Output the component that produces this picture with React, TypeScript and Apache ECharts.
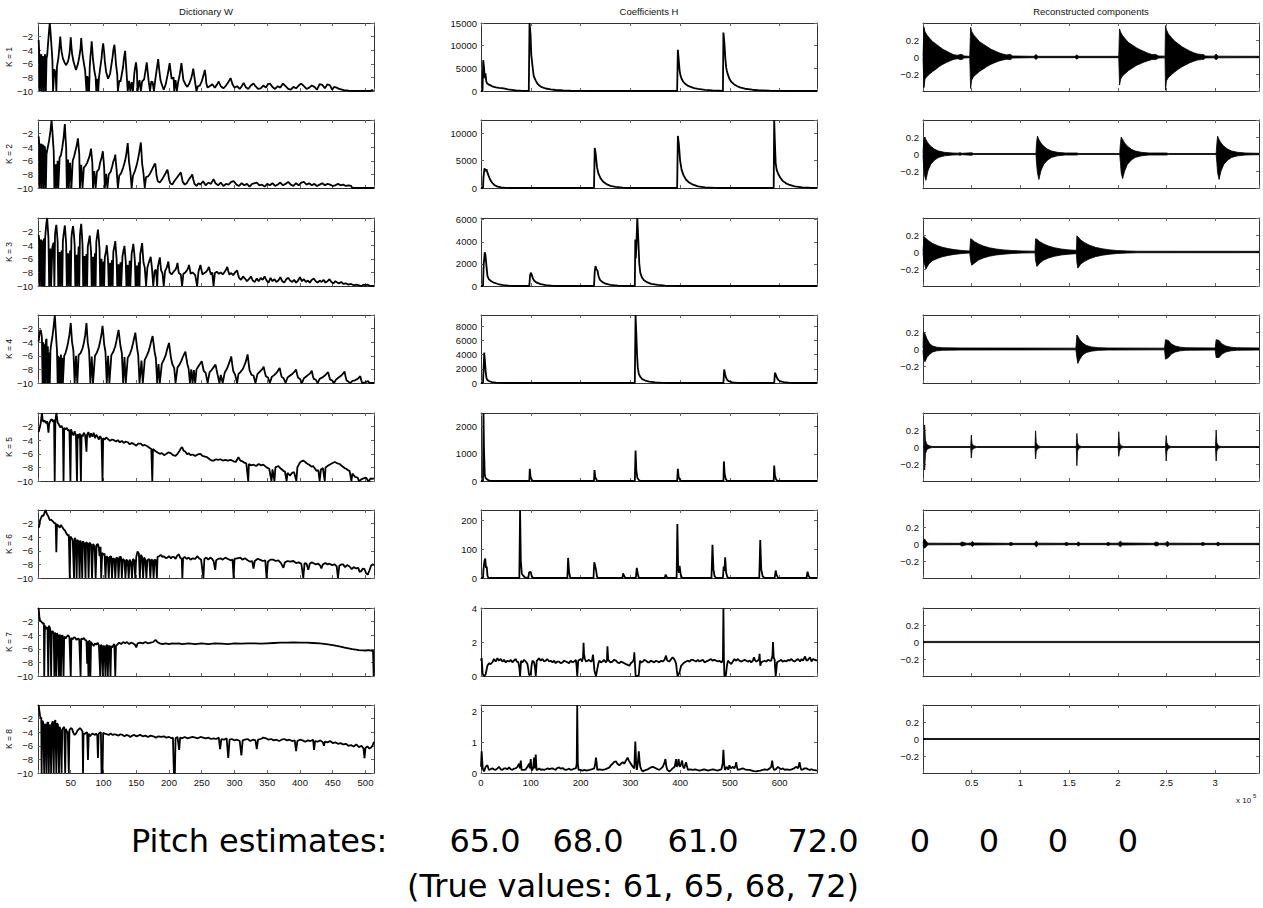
import React, { useEffect, useRef } from "react";
import * as echarts from "echarts";

// ---------------- Column 1: Dictionary W (log-spectra), x = frequency bin ----------------
const W_K1 = [
[1,-2.5],[2,-4.8],[3,-10],[4,-5.0],[5,-4.6],[6,-10],[7,-4.9],[8,-5.3],[9,-10],[10,-5.0],[11,-4.6],[12,-10],[13,-5.2],[14,-4.8],[15,-3.5],[16,-2.2],[17,-1.0],[18,0],[19,-1.2],[20,-2.6],[21,-4.0],[22,-5.5],[23,-10],[25,-6.8],[27,-7.5],[28,-10],[29,-6.4],[31,-5.2],[32,-4.3],[33,-3.2],[34,-2.0],[35,-3.3],[36,-4.2],[38,-5.2],[41,-5.9],[43,-6.2],[46,-5.6],[48,-4.6],[49,-3.5],[50,-2.1],[51,-3.5],[52,-4.5],[54,-5.6],[58,-6.9],[61,-6.0],[63,-5.0],[65,-3.7],[66,-2.2],[67,-3.6],[68,-4.6],[70,-5.9],[72,-7.0],[74,-10],[75,-7.8],[76,-10],[77,-7.9],[78,-10],[79,-6.5],[80,-5.0],[81,-3.9],[82,-2.7],[83,-4.0],[84,-5.4],[86,-7.0],[88,-8.0],[89,-10],[90,-8.2],[92,-10],[93,-8.1],[95,-6.6],[97,-5.2],[98,-4.1],[99.5,-3.0],[101,-4.3],[102,-5.6],[104,-7.2],[107,-8.2],[110,-7.5],[112,-6.2],[114,-4.9],[115,-4.0],[116.7,-3.2],[118,-4.6],[119,-6.0],[121,-7.6],[122,-10],[124,-8.5],[126,-8.6],[128,-7.5],[130,-6.4],[131,-5.3],[133,-4.1],[134,-5.6],[135,-7.0],[137,-10],[139,-8.5],[141,-10],[143,-8.7],[145,-10],[147,-7.5],[148,-6.7],[149.6,-5.8],[151,-7.0],[152,-10],[155,-8.4],[157,-10],[159,-8.6],[162,-8.3],[164,-7.1],[166,-5.8],[167.5,-7.2],[169,-8.6],[171,-10],[173,-8.6],[175,-8.7],[177,-10],[179,-8.4],[181,-7.0],[183.5,-5.3],[185,-6.8],[187,-8.4],[190,-9.3],[192,-9.8],[195,-9.0],[198,-7.6],[199.5,-6.8],[201,-5.9],[202.5,-7.1],[204,-8.2],[207,-8.0],[208,-10],[210,-8.4],[212,-10],[214,-8.7],[216,-7.8],[217.5,-6.9],[219,-5.9],[220.5,-7.2],[222,-8.4],[225,-9.0],[228,-9.4],[231,-8.9],[234,-8.1],[235.5,-7.5],[237,-6.7],[238.5,-7.7],[240,-8.8],[242,-10],[244,-9.3],[247,-9.2],[250,-8.6],[252,-7.9],[253.5,-7.4],[254.7,-6.9],[256,-7.8],[257,-8.9],[259,-9.5],
[262,-9.3],[266,-9.0],[270,-9.5],[273,-9.1],[276,-8.6],[279,-9.3],[283,-9.6],[287,-9.2],[290,-8.8],[294,-8.1],[297,-9.0],[300,-9.5],[304,-9.3],[308,-9.7],[311,-9.3],[314,-8.8],[317,-9.4],[321,-9.7],[325,-9.2],[329,-8.9],[332,-9.3],[336,-9.7],[340,-9.6],[344,-9.2],[348,-9.5],[351,-9.0],[354,-8.9],[358,-9.4],[362,-9.7],[366,-9.3],[370,-9.5],[374,-8.9],[378,-9.3],[382,-9.7],[386,-9.8],[390,-9.4],[394,-9.6],[398,-9.2],[402,-8.9],[406,-9.3],[410,-9.7],[414,-9.5],[418,-9.2],[422,-9.4],[426,-9.8],[430,-9.0],[434,-9.1],[438,-9.6],[442,-9.0],[446,-9.2],[449,-9.8],[452,-9.4],[456,-9.5],[460,-9.7],[464,-9.8],[468,-9.9],[472,-9.9],[476,-10],[508,-10],[510,-9.85],[512,-10],[513,-10]
];

const W_K2 = [
[1,-2.4],[2,-3.6],[3,-10],[4,-3.7],[5,-3.5],[6,-10],[7,-3.6],[8,-3.9],[9,-10],[10,-3.8],[11,-4.4],[12,-10],[13,-5.0],[15,-4.0],[17,-3.0],[19,-1.6],[20.7,0],[22,-1.7],[23,-3.2],[24,-4.6],[25,-10],[27,-6.5],[28,-10],[30,-6.0],[31,-10],[33,-5.5],[35,-5.2],[37,-4.1],[39,-2.7],[41,-0.6],[42,-2.6],[43,-4.0],[44,-10],[46,-5.8],[47,-10],[49,-6.3],[51,-10],[53,-6.0],[55,-5.4],[57,-4.6],[59,-3.8],[61,-2.7],[62,-3.9],[63,-5.0],[64,-10],[66,-6.6],[68,-10],[70,-7.0],[72,-6.8],[75,-6.3],[77,-5.8],[79,-5.2],[81,-4.2],[82,-5.3],[83,-6.4],[84,-10],[86,-7.5],[88,-10],[90,-7.6],[93,-7.2],[95,-6.2],[97,-5.6],[99,-4.6],[100,-5.8],[101,-7.0],[102,-10],[104,-7.9],[106,-10],[108,-8.0],[111,-7.6],[113,-6.9],[115,-6.1],[117,-5.6],[118,-5.1],[119,-6.3],[120,-7.3],[122,-10],[124,-8.2],[127,-7.8],[130,-7.0],[133,-6.0],[135,-4.9],[137,-3.4],[138,-4.8],[139,-6.2],[141,-7.6],[143,-10],[145,-8.2],[148,-7.5],[151,-6.5],[153,-5.6],[155,-4.5],[157,-3.3],
[158,-4.8],[159,-6.4],[161,-7.8],[163,-10],[165,-8.4],[168,-8.3],[171,-7.9],[174,-7.3],[176,-6.9],[177.5,-6.6],[179,-6.4],[180,-7.2],[181,-8.2],[183,-9.0],[186,-9.2],[189,-8.8],[192,-8.3],[195,-7.8],[196.5,-7.5],[197.6,-7.3],[199,-8.0],[200,-8.7],[202,-9.3],[205,-9.5],[208,-9.0],[212,-8.5],[215,-8.1],[216.5,-7.9],[218,-7.7],[219.5,-8.4],[221,-9.1],[224,-9.5],[227,-9.3],[230,-8.8],[233,-8.4],[235.5,-8.0],[237,-8.7],[239,-9.4],[242,-9.7],[245,-9.3],[248,-9.5],[252,-9.0],[256,-9.6],[260,-9.2],[264,-9.4],[268,-8.7],[271,-9.3],[275,-9.6],[279,-9.2],[283,-9.7],[287,-9.4],[291,-9.5],[295,-9.1],[299,-9.0],[303,-9.5],[307,-9.7],[311,-9.3],[315,-9.6],[319,-9.4],[323,-9.8],[327,-9.4],[331,-9.3],[334,-9.2],[338,-9.6],[342,-9.5],[346,-9.8],[350,-9.4],[354,-9.6],[358,-9.3],[362,-9.7],[366,-9.5],[370,-9.2],[374,-9.6],[378,-9.4],[382,-9.1],[386,-9.5],[390,-9.7],[394,-9.3],[398,-9.6],[402,-9.2],[406,-9.1],[410,-9.5],[414,-9.3],[418,-9.6],[422,-9.4],[426,-9.7],[430,-9.5],[434,-9.3],[438,-9.6],[442,-9.4],[446,-9.5],[450,-9.7],[454,-9.6],[458,-9.4],[462,-9.6],[466,-9.5],[470,-9.7],[474,-9.6],[478,-9.7],[480,-10],[513,-10]
];

const W_K3 = [
[1,-2.5],[2,-3.3],[3,-10],[4,-3.4],[5,-3.2],[6,-10],[7,-3.3],[8,-10],[9,-3.0],[10,-10],[11,-2.8],[12,-1.6],[13,-0.6],[14,0],[15,-1.5],[16,-3.0],[17,-10],[19,-4.5],[20,-10],[22,-4.2],[24,-3.6],[25,-10],[26,-2.4],[27,-1.6],[28,-1.0],[29,-2.2],[30,-3.6],[31,-10],[33,-5.0],[34,-10],[36,-4.8],[37,-10],[38,-3.4],[39,-2.5],[40,-1.8],[41,-1.1],[42,-2.4],[43,-3.8],[44,-10],[46,-5.2],[47,-10],[49,-4.8],[50,-10],[51,-3.0],[52,-2.0],[53.5,-1.2],[55,-2.6],[56,-4.0],[57,-10],[59,-5.4],[60,-10],[62,-4.2],[63,-10],[64,-2.6],[65,-1.6],[66,-0.85],[67,-2.4],[68,-4.0],[69,-10],[71,-5.6],[72,-10],[74,-5.3],[75,-10],[76,-4.2],[77.5,-3.4],[79,-2.6],[80,-3.8],[81,-5.0],[82,-10],[84,-5.7],[85,-10],[87,-5.2],[88,-10],[89,-3.5],[90.5,-2.5],[91.5,-1.7],[93,-3.2],[94,-4.7],[95,-10],[97,-6.0],[98,-10],[100,-6.4],[101,-10],[102,-5.8],[104,-4.8],[105,-4.0],[106,-5.2],[107,-6.4],[108,-10],[110,-6.6],[111,-10],[113,-6.2],[114,-10],[115,-5.0],[116.5,-4.2],[118,-3.4],[119,-4.8],[120,-6.0],[121,-10],[123,-6.8],[124,-10],[126,-6.5],[127,-10],[129,-5.6],[130.5,-4.8],[132,-4.1],[133,-5.3],[134,-6.4],[135,-10],[137,-6.9],[138,-10],[140,-6.3],[141,-10],[143,-5.2],[144.5,-4.5],[145.5,-3.8],[147,-5.2],[148,-6.5],[149,-10],[151,-7.0],[152,-10],[154,-6.5],[155,-10],[156,-5.4],[157.5,-4.5],[159,-3.7],[160,-5.2],[161,-6.5],[163,-7.3],[165,-10],[167,-7.3],[169,-6.6],[170.5,-6.2],[172,-5.7],[173,-6.5],[174,-7.4],[176,-10],[178,-7.8],[180,-7.6],[182,-10],[183,-7.2],[184.5,-6.5],[186,-5.8],[187,-6.8],[188,-7.7],[190,-8.1],[192,-10],[194,-7.8],[196,-7.4],[197.5,-7.0],[199,-6.4],[200,-7.2],[201,-8.0],[204,-8.3],[207,-7.9],[210,-7.6],[211.5,-7.2],[213,-6.6],[214,-7.4],[215,-8.1],[218,-8.3],[220,-10],[222,-8.2],[225,-8.0],[228,-7.6],[229.5,-7.3],[230.5,-6.9],[232,-7.6],[233,-8.2],[236,-8.0],[240,-8.4],[243,-10],[245,-7.9],[246.5,-7.4],[248,-6.9],[249.5,-7.6],[251,-8.3],[254,-8.1],[257,-7.9],[259,-7.6],[261,-7.2],[262.5,-7.8],[264,-8.3],[266,-8.0],[268,-10],[270,-8.1],[273,-7.9],[276,-8.2],[279,-8.0],[282,-8.3],[285,-7.9],[287,-7.6],[289,-7.2],[290.5,-7.8],[292,-8.3],[295,-8.1],[298,-8.4],[301,-8.0],[303,-7.8],[304,-7.7],[305.5,-8.3],[307,-8.8],[310,-9.1],[313,-8.6],[316,-8.9],[319,-9.3],[322,-9.0],[325,-8.6],[328,-9.2],[331,-9.4],[334,-8.9],[337,-9.3],[340,-8.8],[343,-9.1],[346,-8.6],[349,-9.2],[352,-9.5],[355,-8.8],[358,-9.3],[361,-9.0],[364,-9.4],[367,-9.2],[370,-8.7],[373,-9.3],[376,-9.5],[379,-9.0],[382,-8.8],[385,-9.2],[388,-9.4],[391,-9.1],[394,-9.5],[397,-9.2],[400,-8.7],[403,-9.3],[406,-9.0],[409,-9.4],[412,-9.2],[415,-9.5],[418,-9.1],[421,-8.9],[424,-9.3],[427,-9.5],[430,-9.2],[433,-9.4],[436,-9.1],[439,-9.5],[442,-9.3],[445,-9.0],[448,-9.4],[451,-9.6],[454,-9.3],[457,-9.5],[460,-9.6],[463,-9.4],[466,-9.7],[470,-9.6],[474,-9.8],[478,-9.7],[482,-9.9],[486,-9.8],[490,-9.9],[494,-10],[497,-9.8],[500,-9.9],[503,-9.8],[507,-10],[513,-10]
];

const W_K4 = [
[1,-3.9],[2,-3.0],[3,-2.4],[4,-2.2],[5,-2.6],[6,-3.4],[7,-10],[8,-4.0],[9,-10],[10,-4.3],[11,-10],[12,-3.8],[13,-3.5],[14,-10],[15,-4.6],[16,-10],[17,-5.5],[18,-10],[19,-5.2],[20,-4.4],[22,-3.2],[23.5,-2.0],[25.7,0],[27,-2.2],[28,-3.8],[29,-5.2],[30,-10],[31,-6.0],[32,-10],[33,-6.2],[34,-10],[35,-5.8],[36,-10],[37,-6.3],[38,-10],[40,-6.0],[42,-5.6],[44,-4.9],[46,-4.0],[48,-2.9],[50,-1.2],[51,-2.6],[52,-4.0],[54,-5.2],[56,-10],[58,-6.0],[60,-10],[62,-5.9],[65,-5.6],[68,-4.9],[70,-4.1],[72,-3.0],[74,-1.2],[75,-2.7],[76,-4.1],[78,-5.3],[80,-10],[82,-6.1],[84,-10],[87,-6.0],[90,-5.5],[93,-4.7],[95,-3.8],[97,-2.8],[98.5,-1.6],[100,-3.0],[101,-4.3],[103,-5.4],[105,-10],[107,-6.0],[109,-10],[112,-5.9],[115,-5.4],[118,-4.6],[120,-3.7],[121.5,-2.9],[123,-2.2],[124.5,-3.4],[126,-4.6],[128,-5.6],[130,-10],[132,-6.2],[134,-10],[137,-6.3],[140,-5.8],[143,-5.0],[145,-4.2],[147,-3.3],[148.6,-2.6],[150,-3.8],[151.5,-5.0],[153,-5.9],[155,-10],[158,-6.7],[160,-10],[163,-6.6],[166,-6.0],[169,-5.3],[171,-4.6],[173,-3.8],[175,-3.1],[176.5,-4.2],[178,-5.4],[180,-6.4],[182,-10],[184,-7.2],[186,-10],[189,-7.2],[192,-6.6],[195,-5.9],[197,-5.1],[198.5,-4.6],[200,-4.1],[201.5,-5.2],[203,-6.3],[205,-7.2],[208,-7.8],[210,-10],[213,-7.7],[216,-7.3],[219,-6.7],[221,-6.2],[223,-5.8],[225,-5.4],[226.5,-6.3],[228,-7.2],[230,-7.9],[232,-10],[234,-8.0],[236,-10],[238,-8.1],[240,-10],[242,-8.0],[244,-7.7],[246,-7.4],[248,-7.1],[250,-6.8],[251.5,-7.5],[253,-8.2],[256,-8.5],[259,-10],[262,-8.4],[265,-8.1],[268,-7.7],[271,-7.3],[272.5,-8.0],[274,-8.7],[277,-10],[279,-8.8],[282,-10],[285,-8.5],[289,-7.8],[292,-7.0],[293.5,-6.6],[295,-6.1],[296.5,-7.2],[298,-8.2],[301,-8.8],[304,-10],[306,-8.7],[309,-8.4],[313,-7.9],[316,-7.2],[318,-6.6],[320,-5.8],[321.5,-7.0],[323,-8.1],[326,-8.8],[329,-8.9],[332,-10],[335,-8.7],[338,-8.4],[341,-8.1],[343,-7.9],[344.5,-7.6],[346,-8.3],[348,-9.0],[351,-9.2],[354,-10],[357,-9.1],[361,-8.8],[365,-8.4],[367,-8.1],[369,-7.8],[370.5,-8.5],[372,-9.1],[375,-9.3],[378,-10],[381,-9.2],[385,-8.9],[389,-8.6],[392,-8.3],[394,-8.0],[395.5,-8.7],[397,-9.2],[400,-9.4],[403,-10],[406,-9.3],[410,-9.0],[414,-8.7],[416,-8.5],[418,-8.2],[419.5,-8.9],[421,-9.4],[424,-9.5],[427,-10],[430,-9.4],[434,-9.2],[438,-8.9],[441,-8.6],[443,-8.4],[444.5,-9.0],[446,-9.5],[449,-9.6],[452,-10],[455,-9.5],[459,-9.2],[463,-8.9],[466,-8.6],[468,-8.3],[469.5,-9.0],[471,-9.6],[474,-9.8],[477,-10],[480,-9.7],[484,-9.6],[488,-9.4],[490,-9.2],[492,-9.0],[493.5,-9.6],[495,-10],[500,-9.9],[504,-9.7],[506,-10],[513,-10]
];

const W_K5 = [
[1,-2.8],[2,-2.4],[3,-2.0],[4,-1.6],[5,-0.8],[6,0],[7,-0.9],[8,-1.3],[10,-1.1],[12,-1.5],[14,-1.2],[15,-2.0],[16,-2.9],[17,-1.6],[19,-1.1],[21,-0.9],[23,-1.3],[24.5,-1.0],[25.5,-10],[26.5,-1.2],[28,0],[29,-0.6],[30,-1.4],[32,-1.7],[34,-2.1],[36,-1.9],[38,-2.3],[39,-10],[40,-2.2],[42,-2.4],[44,-2.2],[46,-2.6],[48,-2.5],[49.5,-10],[50.5,-2.4],[52,-2.9],[54,-3.3],[56,-2.7],[58,-3.4],[59.5,-10],[60.5,-3.1],[62,-3.7],[64,-3.0],[65.5,-10],[66.5,-3.2],[68,-3.5],[70,-2.9],[72,-3.3],[74,-5.7],[75,-3.2],[77,-2.8],[79,-3.6],[81,-3.0],[83,-3.5],[85,-2.9],[87,-3.7],[89,-3.2],[91,-3.5],[93,-3.9],[95,-3.4],[97,-3.8],[98.5,-10],[99.5,-3.7],[102,-3.9],[104,-3.6],[106.6,-3.8],[110,-4.1],[113,-3.9],[116,-4.0],[119,-4.2],[121.8,-4.0],[125,-4.3],[128,-4.1],[131,-4.4],[134,-4.2],[137,-4.3],[140,-4.6],[143,-4.4],[147,-4.6],[150,-4.8],[153,-4.5],[157,-4.5],[160,-4.8],[163,-4.7],[167,-4.9],[170,-5.1],[173,-5.3],[174.5,-10],[175.5,-5.3],[178,-5.5],[182.5,-5.8],[186,-6.0],[189,-5.9],[192.6,-6.2],[196,-6.0],[199,-5.8],[202.7,-5.9],[206,-6.2],[210,-6.3],[213,-6.0],[216,-5.6],[218,-5.2],[220,-5.0],[222,-5.5],[225,-5.7],[228,-6.1],[230,-5.9],[233,-6.2],[236,-6.1],[240,-6.3],[244,-6.1],[248,-6.0],[251,-6.3],[255,-6.4],[258,-6.5],[262,-6.8],[265,-7.0],[268,-7.0],[272,-6.8],[275,-6.9],[278.5,-6.8],[282,-7.0],[286,-6.9],[290,-7.0],[294,-6.9],[298.7,-7.1],[302,-7.2],[306,-6.5],[309,-7.0],[312,-7.1],[315,-7.3],[318,-7.4],[321,-10],[322,-7.5],[325,-7.7],[329,-7.6],[333,-7.8],[337,-7.5],[341,-7.7],[344,-7.6],[349,-8.0],[353,-8.2],[356.5,-10],[358,-8.3],[361,-10],[362.5,-8.0],[367,-7.8],[371,-8.2],[374.6,-8.5],[377,-8.6],[379.6,-10],[381,-8.8],[385,-9.2],[388,-8.8],[391,-8.7],[394.5,-10],[396,-8.0],[399.8,-7.3],[402,-7.1],[405,-7.0],[408,-7.2],[410,-7.4],[414,-7.6],[418,-7.9],[420,-7.8],[423,-8.2],[425,-8.5],[428,-8.4],[430,-10],[432,-8.3],[435,-8.1],[437.8,-10],[439,-8.0],[442,-7.8],[445,-7.6],[449,-7.4],[453,-7.2],[457,-7.4],[460.5,-7.5],[464,-7.8],[468,-8.1],[470.6,-8.2],[473,-8.4],[475.7,-8.5],[478.5,-10],[480,-8.9],[484,-9.4],[488,-9.5],[490,-10],[493,-9.8],[497,-9.6],[501,-9.5],[504,-10],[506,-9.9],[508,-9.6],[510,-9.7],[513,-9.6]
];

const W_K6 = [
[1,-2.6],[2,-2.3],[3,-1.6],[4.5,-1.2],[6.5,-0.8],[8,-0.9],[9.6,-0.5],[11.6,0],[13.6,-0.6],[15.6,-0.9],[18,-1.5],[20,-1.4],[23,-1.7],[25.7,-2.0],[27,-1.9],[28,-6.2],[29,-2.1],[31,-2.3],[33.3,-2.6],[35,-2.2],[37,-2.5],[39,-2.8],[41,-3.0],[43,-3.4],[46,-3.8],[47,-3.6],[48.5,-10],[49.5,-3.9],[51,-4.1],[53,-4.4],[55,-10],[56,-4.1],[58,-4.5],[59,-10],[60,-4.4],[62,-4.6],[63.5,-10],[64.5,-4.5],[66,-4.9],[67.5,-10],[68.5,-4.6],[71,-5.0],[72.5,-10],[73.5,-4.7],[76,-5.0],[77.3,-10],[78.5,-4.8],[81,-5.1],[82.5,-10],[84,-5.0],[86.4,-5.3],[88,-10],[89.5,-5.1],[91.5,-5.0],[93,-5.6],[94,-6.8],[95.5,-5.4],[96.5,-10],[98,-6.3],[100,-6.6],[101.6,-6.4],[103,-10],[104.5,-6.8],[106.6,-7.0],[108,-10],[109.5,-6.9],[111.7,-6.8],[113,-10],[114.5,-7.1],[116.7,-7.2],[118,-10],[119.5,-7.0],[121.8,-7.1],[123,-10],[124.5,-6.9],[126.8,-6.9],[128,-10],[129.5,-7.2],[132,-7.4],[133.5,-10],[135,-7.3],[137,-7.5],[138.5,-10],[140,-7.3],[142,-7.6],[143.5,-10],[145,-7.2],[147,-7.4],[148.5,-10],[150,-6.9],[152,-6.1],[154,-6.4],[155.5,-10],[157,-6.6],[159,-6.9],[160.5,-10],[162,-7.0],[164,-7.3],[165.5,-10],[167,-7.4],[170,-7.2],[171.5,-10],[173,-7.3],[175,-7.4],[176.5,-10],[178,-7.3],[180,-7.4],[181.5,-10],[182.5,-6.9],[185,-6.8],[187.5,-6.6],[190,-6.9],[192.6,-6.8],[195,-7.1],[197.6,-7.0],[200,-6.8],[203,-7.1],[205,-6.9],[207.7,-6.9],[210,-7.2],[212,-6.8],[215,-6.5],[217,-7.0],[219.5,-7.2],[220.4,-10],[221.5,-7.1],[224,-6.9],[227,-7.2],[230,-7.0],[233,-7.3],[236,-7.1],[240,-7.2],[243,-6.8],[246,-7.1],[249,-7.3],[252.5,-10],[254,-7.2],[257,-7.0],[260,-7.3],[263,-7.0],[266,-7.2],[268,-7.5],[270.6,-8.8],[272,-7.4],[275,-7.2],[278.5,-7.1],[282,-7.3],[286,-7.0],[290,-7.2],[294,-7.4],[297,-7.3],[298.7,-10],[300,-7.2],[304,-7.1],[309,-7.0],[312,-7.3],[316,-7.1],[320,-7.4],[324,-7.6],[327,-7.5],[329,-8.6],[331,-7.5],[335,-7.2],[339,-7.3],[343,-7.5],[347,-7.4],[349,-10],[351,-7.6],[355,-7.3],[359,-7.3],[363,-7.5],[367,-7.4],[371,-7.8],[374.6,-8.5],[377,-7.7],[381,-7.5],[385,-7.6],[390,-7.5],[394,-7.8],[398,-7.7],[402,-7.9],[405,-10],[407,-7.8],[410,-7.9],[412.7,-8.8],[415,-7.9],[418,-7.7],[420,-7.8],[424,-8.0],[428,-7.9],[431,-8.2],[432.7,-8.6],[435,-8.0],[439,-7.8],[442,-8.0],[445,-7.9],[449,-8.1],[453,-8.0],[456,-8.3],[458,-10],[460,-8.2],[463,-8.0],[465.6,-8.0],[469,-8.4],[472,-8.1],[475.7,-8.3],[479,-8.7],[482,-8.4],[485.8,-8.6],[489,-8.5],[491,-9.1],[493.4,-9.0],[496,-8.6],[498.4,-8.7],[501,-9.3],[503.5,-9.5],[506,-8.9],[508.5,-8.2],[511,-8.0],[513,-8.1]
];

const W_K7 = [
[1,0],[2,-1.2],[3,-1.8],[4,-2.0],[5,-1.9],[6,-2.2],[7,-2.1],[8,-2.4],[9,-2.2],[9.5,-10],[10.5,-2.6],[12,-2.9],[13,-3.1],[14.5,-2.8],[15.6,-10],[16.6,-2.6],[18,-2.9],[19,-3.3],[20,-10],[21,-3.5],[22.5,-3.4],[24,-3.8],[25,-10],[26,-3.6],[27,-3.9],[28,-10],[29,-3.7],[30.5,-4.1],[32,-10],[33,-3.9],[34,-4.3],[35,-10],[36,-4.1],[37.5,-4.0],[39,-10],[40,-4.2],[42,-4.5],[44,-4.2],[46,-4.0],[48,-4.3],[50,-10],[51,-4.4],[53,-4.6],[55,-4.3],[57,-4.4],[59,-4.7],[61,-4.5],[63,-4.6],[65,-10],[66,-4.5],[68,-4.6],[70,-4.4],[72,-4.7],[74,-4.8],[75,-8.2],[76,-4.9],[77,-10],[78,-4.8],[79,-4.9],[80,-10],[81,-5.0],[83,-5.3],[85,-5.6],[87,-5.2],[89,-5.4],[91,-5.1],[93,-5.5],[95,-10],[96,-5.4],[97.5,-5.6],[99,-10],[100,-5.5],[101.5,-5.8],[103,-10],[104,-5.6],[105.5,-5.4],[106.6,-10],[107.6,-5.7],[109,-5.5],[110.7,-10],[111.7,-5.6],[113,-5.8],[115,-5.5],[116.5,-5.3],[118,-10],[119,-5.6],[121,-5.4],[124,-5.1],[127,-5.3],[130,-5.0],[133,-5.2],[136,-5.0],[139,-5.3],[142,-5.1],[145,-5.2],[148,-5.4],[150,-5.8],[152,-5.2],[156,-5.1],[160,-5.2],[164,-5.0],[168,-5.2],[172,-5.1],[176,-5.0],[178,-4.8],[180,-4.7],[182,-5.0],[186,-5.2],[190,-5.3],[195,-5.2],[200,-5.3],[205,-5.2],[210,-5.25],[215,-5.2],[220,-5.3],[230,-5.2],[240,-5.3],[250,-5.2],[260,-5.3],[270,-5.2],[280,-5.25],[290,-5.3],[300,-5.2],[310,-5.25],[320,-5.2],[330,-5.2],[340,-5.25],[350,-5.2],[360,-5.15],[370,-5.1],[380,-5.1],[390,-5.05],[400,-5.1],[410,-5.1],[420,-5.15],[430,-5.2],[440,-5.3],[450,-5.45],[460,-5.65],[470,-5.85],[480,-6.05],[490,-6.2],[500,-6.25],[505,-6.2],[510,-6.3],[511.5,-6.2],[512.5,-10],[513,-10]
];

const W_K8 = [
[1,0],[2,-0.8],[3,-1.5],[4,-2.0],[5,-1.8],[5.5,-10],[6.5,-2.3],[8,-2.6],[9.5,-10],[10.5,-2.8],[12,-3.0],[13,-10],[14,-2.7],[15.6,-2.5],[16.5,-10],[17.5,-2.9],[19,-3.1],[20,-10],[21,-2.8],[22.5,-2.4],[24,-10],[25,-2.6],[26.5,-2.2],[28,-10],[29,-2.7],[30.5,-2.9],[32,-10],[33,-3.2],[34.5,-3.8],[36,-10],[37,-3.6],[38.5,-3.4],[40,-3.2],[41.5,-10],[42.5,-3.5],[44,-3.9],[45.5,-4.0],[47,-10],[48,-3.7],[50,-3.4],[52,-3.5],[54,-4.1],[56,-4.4],[58,-4.2],[60,-3.8],[62,-3.6],[64,-3.4],[66,-3.6],[68,-3.9],[68.7,-10],[69.5,-4.2],[71,-4.3],[73,-4.1],[75,-4.0],[76.3,-8.1],[77.5,-4.2],[79,-4.6],[81,-4.4],[83,-4.2],[85,-4.3],[87,-4.4],[89,-4.2],[90.5,-4.5],[91.5,-7.8],[92.5,-4.3],[94,-4.1],[96,-4.0],[97,-10],[98.5,-10],[99.5,-4.1],[102,-4.2],[105,-4.3],[108,-4.4],[111,-4.2],[114,-4.4],[117,-4.3],[120,-4.4],[123,-4.5],[126,-4.3],[129,-4.4],[132,-4.6],[135,-4.4],[138,-4.5],[141,-4.7],[144,-4.5],[147,-4.4],[150,-4.6],[153,-4.5],[156,-4.4],[160,-4.6],[164,-4.5],[168,-4.7],[172,-4.5],[176,-4.6],[180,-4.8],[184,-4.6],[188,-4.7],[192,-4.6],[196,-4.8],[200,-4.7],[204,-4.9],[206,-4.8],[207.5,-10],[209,-10],[210,-4.9],[213,-4.7],[215.5,-6.6],[217,-4.8],[220,-4.9],[224,-4.7],[228,-4.9],[232,-4.8],[236,-4.7],[240,-4.8],[244,-4.9],[248,-4.7],[252,-4.8],[256,-4.9],[260,-4.8],[264,-5.0],[268,-4.9],[272,-5.0],[276,-4.8],[278,-6.5],[280,-5.0],[284,-5.1],[288,-4.9],[290.5,-7.8],[292.5,-5.1],[296,-5.0],[300,-5.2],[304,-5.1],[308,-5.3],[310.5,-7.4],[312.5,-5.2],[316,-5.1],[320,-5.0],[324,-5.3],[328,-5.1],[332,-5.2],[334,-6.5],[336,-5.1],[340,-5.0],[344,-4.8],[348,-4.9],[352,-5.1],[356,-5.0],[360,-5.2],[364,-5.1],[368,-5.3],[372,-5.1],[376,-5.0],[380,-5.2],[384,-5.1],[388,-5.3],[392,-5.2],[394,-6.8],[396,-5.3],[400,-5.1],[404,-5.2],[408,-5.4],[412,-5.2],[416,-5.3],[420,-5.1],[421.5,-6.6],[423,-5.3],[427,-5.4],[431,-5.2],[435,-5.5],[436.5,-6.0],[438,-5.4],[442,-5.5],[446,-5.3],[450,-5.6],[454,-5.5],[458,-5.7],[462,-5.6],[466,-5.8],[470,-5.7],[474,-6.0],[478,-5.9],[482,-6.1],[486,-5.8],[490,-6.2],[494,-6.0],[497,-6.4],[498.5,-7.8],[500,-6.3],[503,-6.1],[506,-6.4],[509,-6.2],[511,-5.9],[513,-5.4]
];

// ---------------- Column 2: Coefficients H, x = frame ----------------
const H_K1 = [
[0,0],[3,0],[4.5,6800],[6,5200],[7.5,2800],[9,3900],[10.5,2200],[12,1700],[16,1400],[20,1200],[24,950],[30,800],[36,700],[42,650],[48,500],[54,350],[62,250],[70,150],[80,80],[90,30],[96,0],
[96.5,0],[97.5,15000],[99.5,12500],[101,8000],[103,6000],[104.5,4500],[106,3300],[108,2800],[110,2300],[113,1700],[117,1200],[122,850],[130,550],[140,350],[150,220],[165,120],[180,60],[200,20],[220,0],
[394,0],[395.5,9100],[397,7200],[399,4500],[401,3300],[403,2700],[406,2100],[410,1600],[415,1200],[420,950],[428,650],[436,450],[450,250],[465,130],[480,60],[484,0],
[486,0],[487,12900],[489,10500],[491,7000],[492.5,5200],[494,4400],[496,3600],[499,2700],[503,2000],[508,1500],[514,1100],[520,800],[530,500],[545,280],[560,150],[580,70],[600,20],[620,0],[675,0]
];
const H_K2 = [
[0,0],[4,0],[5,2000],[7,3600],[9,3100],[11,3400],[13,2800],[15,2300],[18,1600],[22,1000],[26,600],[32,300],[40,120],[50,30],[60,0],
[227,0],[228.5,7300],[230.5,6200],[233,3800],[236,2600],[240,1800],[245,1200],[252,700],[260,400],[270,200],[285,80],[300,0],
[394,0],[395.5,9500],[397.5,8000],[400,5000],[403,3300],[407,2300],[412,1500],[418,1000],[426,600],[436,300],[450,120],[470,30],[480,0],
[588,0],[589,12400],[590.5,8000],[592,4500],[594,3300],[597,2600],[601,1900],[606,1300],[612,900],[620,550],[630,300],[645,130],[660,50],[675,10]
];
const H_K3 = [
[0,0],[4,0],[5.5,2000],[7.5,3050],[9,2800],[11,1800],[13,900],[16,600],[20,450],[26,300],[34,180],[45,80],[55,30],[65,0],
[97,0],[98.5,900],[100,1200],[102,1050],[104,700],[107,480],[112,300],[120,170],[130,80],[145,20],[155,0],
[227,0],[228.5,1300],[230,1800],[232,1500],[234,1400],[236,900],[239,550],[244,350],[250,220],[260,110],[275,40],[290,0],
[309,0],[310,4200],[311,2500],[312,3500],[314,6150],[316,4200],[318,2000],[320,1200],[323,800],[327,550],[333,350],[342,200],[355,100],[370,40],[390,10],[400,0],[675,0]
];
const H_K4 = [
[0,0],[4,0],[5.5,2500],[6.5,4300],[8,3000],[9.5,1500],[11,700],[13,400],[17,250],[22,120],[30,50],[40,10],[50,0],
[309,0],[310.5,9580],[312,7000],[313.5,4000],[315,2200],[317,1300],[320,850],[324,550],[330,350],[338,200],[350,90],[365,30],[380,0],
[487,0],[488.5,1900],[490.5,1200],[492.5,700],[495,400],[499,220],[505,100],[515,30],[525,0],
[589,0],[590.5,1450],[592.5,1150],[595,650],[598,380],[602,220],[608,110],[618,40],[630,0],[675,0]
];
const H_K5 = [
[0,0],[4,0],[5,2500],[6,1200],[7.5,250],[9,120],[12,60],[16,20],[20,0],
[97,0],[98,450],[99.5,150],[102,40],[105,0],
[227,0],[228,400],[229.5,150],[232,40],[235,0],
[309,0],[310.5,1120],[312,400],[314,120],[317,40],[320,0],
[394,0],[395.5,450],[397,150],[399.5,40],[402,0],
[487,0],[488,720],[489.5,250],[492,60],[495,0],
[588,0],[589,570],[590.5,200],[593,50],[596,0],[675,0]
];
const H_K6 = [
[0,0],[4,0],[5,30],[7,60],[8.5,68],[10,35],[11.5,40],[13,8],[15,0],
[77,0],[78.5,237],[80,60],[82,15],[85,8],[88,2],[95,0],[96.5,18],[98,22],[100,20],[102,6],[105,0],
[173.5,0],[175,70],[177,20],[179,3],[181,0],
[226,0],[227.5,55],[229,45],[231,30],[233,5],[235,0],
[284,0],[285.5,16],[288,6],[290,0],
[311,0],[313,35],[315,15],[317,0],
[369,0],[371,12],[373,4],[375,0],
[393,0],[394.5,188],[396,40],[397.5,18],[399,42],[401,15],[403,3],[405,0],
[463,0],[465,116],[467,30],[469,8],[472,0],
[486,0],[487.5,40],[489,25],[490.5,72],[492.5,18],[495,3],[498,0],
[559,0],[561,132],[563,30],[566,5],[570,0],
[590,0],[592,26],[594,10],[597,0],
[654,0],[656,22],[658,8],[661,0],[675,0]
];
const H_K7 = [
[0,0.9],[1.3,1.05],[3.4,0.1],[6,0],[9.4,0.1],[12.8,0.6],[16,0.75],[19,0.7],[22.8,0.8],[26,1.0],[29.5,0.85],[33,1.05],[36,0.9],[39.6,1.0],[43,0.85],[46.3,0.95],[49.7,0.8],[53,0.9],[56.4,0.85],[60,0.95],[63,0.8],[66,0.9],[69.8,1.0],[72,0.85],[75,0.8],[77,0.5],[78.5,0],[80.5,0.9],[83,0.8],[86.6,0.95],[90,0.85],[93.3,0.7],[95,0.4],[96.6,0.05],[100,0.1],[101.5,0.6],[103.4,0.9],[106.7,0.8],[108.5,0.5],[110,0],[112,0.9],[114,0.95],[116.8,1.05],[120,0.9],[123.5,1.0],[127,0.85],[130,0.9],[133,1.0],[137,0.85],[140,0.9],[143.6,0.8],[147,0.9],[150,0.75],[153,0.85],[157,0.85],[160,0.75],[163.8,0.8],[167,0.9],[170.5,0.85],[174,0.8],[177,0.75],[180,0.9],[184,0.8],[187,0.85],[190.6,0.95],[192,0.6],[193.3,0],[195.3,0.9],[198,0.95],[200.7,1.0],[203,0.85],[205,1.1],[206,1.95],[207,1.3],[208.7,1.0],[211,0.85],[214,0.9],[217,0.95],[220.8,0.85],[223,0.9],[225,1.25],[226.5,0.8],[228,0.3],[231,0],[233.6,0.4],[235.5,0.7],[237.6,0.9],[241,0.8],[244,0.85],[247,0.95],[251,0.8],[253,0.9],[254,1.75],[255.5,1.0],[257,0.9],[260,0.8],[264.4,0.85],[267,0.95],[271,0.9],[274,0.8],[278,0.75],[281,0.85],[284.6,0.8],[288,0.75],[291,0.7],[295,0.65],[298,0.6],[301,0.75],[305,0.85],[307,1.0],[308,1.4],[309.5,0.6],[310.7,0],[314,0],[317,0.05],[318.5,0.6],[319.5,0.9],[322,0.8],[325,0.85],[328,0.95],[331.5,0.9],[335,0.8],[338,0.8],[341,0.9],[345,0.85],[348,0.8],[351.7,0.9],[355,0.85],[358,0.8],[362,0.9],[365,0.85],[368.5,0.95],[371.8,1.2],[373.5,0.95],[375,0.9],[378,0.85],[381,0.95],[385,1.1],[388,1.0],[390.5,0.85],[392,0.7],[393.5,0.3],[395,0],[397,0.1],[398.7,0.2],[402,0.6],[405,0.7],[408.7,0.8],[412,0.85],[415,0.9],[419,0.85],[422,0.95],[425.5,0.95],[429,0.9],[432,0.85],[436,0.95],[439,0.85],[442,0.9],[446,0.95],[449,0.8],[452,0.85],[456,0.9],[459,0.95],[462,1.0],[465,0.9],[469,0.95],[472.5,0.9],[476,0.85],[479,0.9],[482.5,0.8],[485,0.85],[486,1.0],[487,4.0],[488,1.0],[489,0],[492,0.05],[494,0.6],[496,0.9],[499,0.8],[502.7,0.7],[506,0.85],[509,1.0],[512,0.9],[516,1.0],[519,0.9],[523,0.85],[526,0.9],[529.5,0.95],[533,0.9],[536,0.85],[540,0.9],[543,0.8],[546,0.9],[548.5,1.1],[550,0.95],[553,0.85],[556,0.9],[558.5,1.0],[559.7,1.3],[561,0.6],[563,0.8],[566,0.85],[569.8,0.9],[573,0.85],[576.5,0.95],[580,0.9],[583,0.9],[585.5,1.2],[586.6,2.0],[588,1.1],[590,0.95],[591,0.4],[592,0],[593.5,0.4],[594.6,0.8],[597,0.85],[600,0.9],[603,0.95],[606,0.85],[610,0.9],[613,0.85],[617,0.95],[620,0.9],[623,1.0],[627,0.9],[630,0.85],[634,0.95],[637,1.0],[641,0.85],[644,1.0],[647,0.9],[651,1.15],[654,0.9],[657,0.95],[661,1.1],[664,0.85],[667,1.0],[671,0.95],[675,0.9]
];
const H_K8 = [
[0,0.2],[1.3,0.7],[3.4,0.15],[6,0.05],[9.4,0.2],[12.8,0.25],[16,0.1],[19,0.12],[22.8,0.15],[26,0.12],[29.5,0.1],[33,0.15],[36,0.2],[39.6,0.12],[43,0.1],[46.3,0.15],[49.7,0.15],[53,0.12],[56.4,0.18],[60,0.12],[63,0.1],[66,0.14],[69.8,0.15],[73,0.2],[76.5,0.3],[78,0.15],[80,0.4],[81.5,0.1],[83,0.1],[86.6,0.1],[90,0.12],[93.3,0.2],[96.6,0.3],[98,0.15],[100,0.45],[101.5,0.1],[103.4,0.1],[105,0.2],[106.7,0.5],[108,0.15],[110,0.6],[111.5,0.1],[113.4,0.1],[116.8,0.15],[120,0.1],[123,0.12],[127,0.1],[130,0.12],[134,0.15],[137,0.12],[140,0.14],[143.6,0.15],[147,0.12],[150,0.1],[153,0.16],[157,0.18],[160,0.14],[164,0.16],[167,0.12],[170.5,0.1],[174,0.12],[177,0.14],[180,0.1],[184,0.12],[187,0.14],[190.6,0.15],[192.3,0.3],[193.3,2.2],[194.5,0.3],[196,0.1],[200,0.1],[204,0.08],[208,0.1],[212,0.08],[217.4,0.1],[222,0.12],[227.5,0.15],[229.5,0.3],[231,0.5],[232.5,0.3],[233.6,0.1],[238,0.12],[244,0.1],[249,0.12],[254,0.15],[258,0.18],[261,0.25],[264.4,0.3],[267,0.35],[271,0.38],[274,0.3],[278,0.25],[281,0.3],[284.6,0.35],[288,0.3],[291,0.4],[293,0.45],[294.6,0.5],[297,0.4],[301,0.3],[305,0.2],[308,0.15],[309,0.6],[310,1.02],[311.5,0.4],[313,0.1],[315,0.3],[317,0.7],[318.5,0.4],[320,0.2],[322.5,0.1],[325,0.05],[328,0.08],[331.5,0.1],[335,0.12],[338,0.15],[341,0.18],[345,0.2],[348,0.18],[351.7,0.15],[355,0.12],[358,0.1],[362,0.15],[365,0.2],[368,0.3],[370.5,0.45],[372.5,0.2],[374.5,0.1],[378.5,0.05],[382,0.1],[385,0.15],[389,0.2],[392,0.45],[393.3,0.2],[394.6,0.2],[396,0.3],[397,0.45],[398.5,0.25],[400,0.2],[402,0.3],[404,0.4],[406,0.2],[408,0.15],[410,0.25],[412,0.35],[414,0.2],[416,0.1],[420,0.12],[425.5,0.1],[430,0.12],[434,0.1],[439,0.08],[444,0.1],[448,0.12],[452,0.1],[456,0.08],[461,0.1],[465.8,0.12],[470,0.1],[475,0.08],[479,0.1],[483,0.12],[485.5,0.3],[487,0.75],[488.5,0.3],[490,0.1],[492,0.15],[494,0.2],[497,0.1],[499,0.25],[502,0.15],[506,0.2],[509,0.15],[511.5,0.25],[512.8,0.35],[514,0.2],[516,0.1],[520,0.12],[526,0.15],[530,0.12],[535,0.1],[539.6,0.1],[544,0.08],[548,0.06],[553,0.05],[557,0.07],[561,0.08],[566,0.1],[570,0.12],[575,0.1],[580,0.15],[583,0.2],[585,0.4],[586.5,0.2],[588.6,0.1],[592,0.12],[596.6,0.2],[600,0.15],[603,0.12],[606.7,0.15],[610,0.1],[614,0.12],[620,0.1],[624,0.12],[629,0.15],[633.6,0.2],[637,0.15],[640,0.35],[641.5,0.2],[643.6,0.1],[647,0.12],[650,0.15],[653.7,0.15],[657,0.12],[661,0.1],[664,0.12],[667,0.1],[671,0.09],[675,0.08]
];

// ---------------- Column 3: reconstructed components, envelope [x (×10^5 samples), upper, lower] ----------------
const R_K1 = [
[0,0.005,-0.005],[0.006,0.005,-0.005],[0.01,0.35,-0.36],[0.02,0.30,-0.26],[0.04,0.26,-0.23],[0.068,0.22,-0.2],[0.10,0.18,-0.17],[0.137,0.15,-0.14],[0.17,0.12,-0.11],[0.205,0.09,-0.085],[0.24,0.07,-0.065],[0.274,0.05,-0.048],[0.30,0.035,-0.035],[0.325,0.025,-0.025],[0.36,0.02,-0.02],[0.38,0.03,-0.03],[0.40,0.03,-0.03],[0.42,0.012,-0.012],[0.48,0.008,-0.008],
[0.486,0.008,-0.008],[0.489,0.35,-0.37],[0.50,0.30,-0.27],[0.52,0.26,-0.23],[0.55,0.22,-0.2],[0.58,0.18,-0.17],[0.62,0.15,-0.14],[0.66,0.12,-0.11],[0.70,0.09,-0.085],[0.74,0.07,-0.065],[0.78,0.05,-0.048],[0.82,0.035,-0.035],[0.86,0.025,-0.025],[0.88,0.03,-0.03],[0.90,0.03,-0.03],[0.92,0.012,-0.012],
[1.14,0.008,-0.008],[1.16,0.03,-0.03],[1.18,0.008,-0.008],[1.56,0.008,-0.008],[1.58,0.025,-0.025],[1.60,0.008,-0.008],
[2.01,0.008,-0.008],[2.018,0.33,-0.33],[2.03,0.29,-0.26],[2.05,0.25,-0.22],[2.08,0.21,-0.19],[2.11,0.17,-0.16],[2.15,0.14,-0.13],[2.19,0.11,-0.10],[2.23,0.085,-0.08],[2.27,0.065,-0.06],[2.31,0.045,-0.045],[2.35,0.03,-0.03],[2.37,0.03,-0.03],[2.39,0.03,-0.03],[2.42,0.012,-0.012],
[2.485,0.01,-0.01],[2.49,0.37,-0.39],[2.50,0.32,-0.28],[2.52,0.27,-0.24],[2.55,0.23,-0.21],[2.58,0.19,-0.18],[2.62,0.155,-0.145],[2.66,0.12,-0.115],[2.70,0.095,-0.09],[2.74,0.07,-0.068],[2.78,0.05,-0.05],[2.82,0.035,-0.035],[2.86,0.03,-0.03],[2.88,0.03,-0.03],[2.90,0.012,-0.012],
[2.99,0.01,-0.01],[3.01,0.035,-0.035],[3.03,0.01,-0.01],[3.45,0.008,-0.008]
];
const R_K2 = [
[0,0.005,-0.005],[0.005,0.12,-0.12],[0.015,0.2,-0.25],[0.03,0.17,-0.31],[0.05,0.13,-0.2],[0.08,0.09,-0.12],[0.12,0.055,-0.07],[0.16,0.035,-0.04],[0.22,0.02,-0.022],[0.3,0.012,-0.012],[0.36,0.01,-0.01],[0.38,0.015,-0.015],[0.40,0.008,-0.008],[0.5,0.015,-0.015],[0.52,0.006,-0.006],
[1.16,0.006,-0.006],[1.165,0.12,-0.1],[1.175,0.21,-0.22],[1.19,0.17,-0.3],[1.21,0.13,-0.2],[1.24,0.09,-0.12],[1.28,0.055,-0.07],[1.32,0.035,-0.04],[1.38,0.02,-0.022],[1.46,0.012,-0.012],[1.58,0.012,-0.012],[1.6,0.006,-0.006],
[2.02,0.006,-0.006],[2.027,0.12,-0.1],[2.035,0.2,-0.22],[2.05,0.17,-0.29],[2.07,0.13,-0.2],[2.10,0.09,-0.12],[2.14,0.055,-0.07],[2.18,0.035,-0.04],[2.24,0.02,-0.022],[2.32,0.012,-0.012],[2.5,0.012,-0.012],[2.52,0.006,-0.006],
[3.01,0.006,-0.006],[3.017,0.12,-0.1],[3.025,0.21,-0.22],[3.04,0.17,-0.3],[3.06,0.13,-0.2],[3.09,0.09,-0.12],[3.13,0.055,-0.07],[3.17,0.035,-0.04],[3.23,0.02,-0.022],[3.31,0.012,-0.012],[3.45,0.008,-0.008]
];
const R_K3 = [
[0,0.006,-0.006],[0.01,0.18,-0.12],[0.03,0.16,-0.2],[0.06,0.13,-0.14],[0.10,0.1,-0.1],[0.15,0.075,-0.075],[0.2,0.055,-0.055],[0.26,0.04,-0.04],[0.32,0.028,-0.028],[0.40,0.018,-0.018],[0.48,0.012,-0.012],
[0.489,0.155,-0.1],[0.50,0.15,-0.155],[0.53,0.12,-0.13],[0.57,0.095,-0.095],[0.62,0.07,-0.07],[0.68,0.05,-0.05],[0.75,0.035,-0.035],[0.83,0.025,-0.025],[0.92,0.017,-0.017],[1.02,0.012,-0.012],[1.15,0.01,-0.01],
[1.156,0.155,-0.1],[1.17,0.15,-0.17],[1.20,0.12,-0.13],[1.24,0.095,-0.095],[1.29,0.07,-0.07],[1.35,0.05,-0.05],[1.42,0.035,-0.035],[1.5,0.025,-0.025],[1.575,0.02,-0.02],
[1.58,0.19,-0.12],[1.59,0.18,-0.19],[1.62,0.14,-0.14],[1.66,0.11,-0.11],[1.71,0.08,-0.08],[1.77,0.055,-0.055],[1.84,0.038,-0.038],[1.92,0.025,-0.025],[2.0,0.017,-0.017],[2.1,0.012,-0.012],[2.2,0.009,-0.009],[3.45,0.008,-0.008]
];
const R_K4 = [
[0,0.01,-0.01],[0.005,0.2,-0.1],[0.02,0.18,-0.15],[0.04,0.12,-0.1],[0.07,0.06,-0.06],[0.1,0.035,-0.035],[0.14,0.022,-0.022],[0.2,0.015,-0.015],[0.4,0.012,-0.012],[1.57,0.01,-0.01],
[1.58,0.165,-0.1],[1.59,0.15,-0.17],[1.61,0.11,-0.12],[1.64,0.07,-0.07],[1.68,0.04,-0.04],[1.73,0.025,-0.025],[1.8,0.016,-0.016],[1.9,0.012,-0.012],[2.48,0.01,-0.01],
[2.49,0.11,-0.12],[2.52,0.1,-0.1],[2.55,0.06,-0.06],[2.59,0.035,-0.035],[2.64,0.022,-0.022],[2.7,0.015,-0.015],[3.0,0.012,-0.012],
[3.01,0.11,-0.1],[3.04,0.1,-0.1],[3.07,0.06,-0.06],[3.11,0.035,-0.035],[3.16,0.022,-0.022],[3.22,0.015,-0.015],[3.45,0.012,-0.012]
];
const R_K5 = [
[0,0.006,-0.006],[0.012,0.01,-0.01],[0.017,0.26,-0.27],[0.025,0.08,-0.08],[0.04,0.03,-0.03],[0.07,0.012,-0.012],[0.1,0.006,-0.006],
[0.49,0.006,-0.006],[0.496,0.14,-0.13],[0.503,0.04,-0.04],[0.52,0.015,-0.015],[0.55,0.006,-0.006],
[1.15,0.006,-0.006],[1.156,0.19,-0.14],[1.163,0.05,-0.05],[1.18,0.015,-0.015],[1.21,0.006,-0.006],
[1.574,0.006,-0.006],[1.58,0.16,-0.22],[1.587,0.05,-0.05],[1.6,0.015,-0.015],[1.63,0.006,-0.006],
[2.004,0.006,-0.006],[2.01,0.18,-0.11],[2.017,0.05,-0.05],[2.03,0.015,-0.015],[2.06,0.006,-0.006],
[2.49,0.006,-0.006],[2.497,0.135,-0.165],[2.504,0.05,-0.05],[2.52,0.015,-0.015],[2.55,0.006,-0.006],
[3.003,0.006,-0.006],[3.01,0.2,-0.165],[3.017,0.05,-0.05],[3.03,0.015,-0.015],[3.06,0.006,-0.006],[3.45,0.006,-0.006]
];
const R_K6 = [
[0,0.008,-0.008],[0.005,0.035,-0.035],[0.017,0.06,-0.05],[0.03,0.035,-0.035],[0.05,0.01,-0.01],
[0.38,0.008,-0.008],[0.40,0.025,-0.025],[0.43,0.014,-0.014],[0.45,0.008,-0.008],[0.49,0.012,-0.012],[0.506,0.03,-0.03],[0.525,0.012,-0.012],
[0.88,0.008,-0.008],[0.9,0.018,-0.018],[0.93,0.008,-0.008],
[1.145,0.008,-0.008],[1.163,0.034,-0.034],[1.185,0.01,-0.01],
[1.45,0.008,-0.008],[1.47,0.018,-0.018],[1.5,0.008,-0.008],[1.58,0.008,-0.008],[1.594,0.024,-0.024],[1.615,0.008,-0.008],
[1.88,0.008,-0.008],[1.9,0.018,-0.018],[1.93,0.008,-0.008],[2.005,0.01,-0.01],[2.025,0.032,-0.032],[2.05,0.012,-0.012],
[2.37,0.008,-0.008],[2.385,0.022,-0.022],[2.41,0.02,-0.02],[2.425,0.008,-0.008],[2.49,0.01,-0.01],[2.507,0.032,-0.032],[2.53,0.01,-0.01],
[2.85,0.008,-0.008],[2.87,0.018,-0.018],[2.9,0.008,-0.008],[3.01,0.008,-0.008],[3.027,0.022,-0.022],[3.05,0.008,-0.008],[3.45,0.008,-0.008]
];
const R_K7 = [[0,0.007,-0.007],[3.45,0.007,-0.007]];
const R_K8 = [[0,0.006,-0.006],[3.45,0.006,-0.006]];

// ---------------- labels / axis values ----------------
const COL_TITLES = ["Dictionary W", "Coefficients H", "Reconstructed components"];
const K_LABELS = ["K = 1", "K = 2", "K = 3", "K = 4", "K = 5", "K = 6", "K = 7", "K = 8"];
const H_YMAX = [15000, 12400, 6150, 9580, 2500, 237, 4, 2.2];
const H_YSTEP = [5000, 5000, 2000, 2000, 1000, 100, 2, 1];
const PITCH_ESTIMATES = ["65.0", "68.0", "61.0", "72.0", "0", "0", "0", "0"];
const TRUE_VALUES = [61, 65, 68, 72];

const W_DATA = [W_K1, W_K2, W_K3, W_K4, W_K5, W_K6, W_K7, W_K8];
const H_DATA = [H_K1, H_K2, H_K3, H_K4, H_K5, H_K6, H_K7, H_K8];
const R_DATA = [R_K1, R_K2, R_K3, R_K4, R_K5, R_K6, R_K7, R_K8];

// ---------------- layout ----------------
const COL_LEFT = [38, 481, 923];
const COL_WIDTH = 336;
const ROW_TOP = [23, 120, 218, 315, 413, 510, 608, 705];
const ROW_HEIGHT = 68;
const PITCH_X = [485, 588, 703, 823, 920, 989, 1058, 1128];
const FONT = "'Liberation Sans', Arial, Helvetica, sans-serif";
const BIG_FONT = "'DejaVu Sans', sans-serif";

const MINUS = "\u2212";

function buildOption() {
  const grid: any[] = [];
  const xAxis: any[] = [];
  const yAxis: any[] = [];
  const series: any[] = [];

  const axisLine = { show: true, onZero: false, lineStyle: { color: "#333", width: 1 } };
  const axisTick = { show: true, inside: true, length: 3, lineStyle: { color: "#666", width: 1 } };
  const labelBase = { fontSize: 9.5, fontFamily: FONT, color: "#111" };

  for (let r = 0; r < 8; r++) {
    for (let c = 0; c < 3; c++) {
      const g = r * 3 + c;
      grid.push({ left: COL_LEFT[c], top: ROW_TOP[r], width: COL_WIDTH, height: ROW_HEIGHT, containLabel: false });

      let xr: any;
      if (c === 0) xr = { min: 0, max: 513, interval: 50, fmt: (v: number) => (v === 0 ? "" : String(v)) };
      else if (c === 1) xr = { min: 0, max: 675, interval: 100, fmt: (v: number) => String(v) };
      else xr = { min: 0, max: 3.45, interval: 0.5, fmt: (v: number) => (v === 0 ? "" : String(Math.round(v * 10) / 10)) };

      const xCommon = { type: "value", gridIndex: g, min: xr.min, max: xr.max, interval: xr.interval, axisLine, axisTick, splitLine: { show: false } };
      xAxis.push({ ...xCommon, position: "bottom", axisLabel: { ...labelBase, show: r === 7, formatter: xr.fmt, showMaxLabel: false, margin: 4 } });
      xAxis.push({ ...xCommon, position: "top", axisLabel: { show: false } });

      let yr: any;
      if (c === 0) {
        yr = { min: -10, max: 0, interval: 2, fmt: (v: number) => (v === 0 ? "" : MINUS + Math.abs(v)), showMax: false, showMin: true, margin: 5 };
      } else if (c === 1) {
        const mx = H_YMAX[r];
        const st = H_YSTEP[r];
        const isMult = Math.abs(mx / st - Math.round(mx / st)) < 1e-9;
        yr = { min: 0, max: mx, interval: st, fmt: (v: number) => String(v), showMax: isMult, showMin: true, margin: 4 };
      } else {
        yr = { min: -0.4, max: 0.4, interval: 0.2, fmt: (v: number) => (Math.abs(v) < 1e-9 ? "0" : (v < 0 ? MINUS : "") + Math.abs(v).toFixed(1)), showMax: false, showMin: false, margin: 4 };
      }
      const yCommon = { type: "value", gridIndex: g, min: yr.min, max: yr.max, interval: yr.interval, axisLine, axisTick, splitLine: { show: false } };
      yAxis.push({ ...yCommon, position: "left", axisLabel: { ...labelBase, formatter: yr.fmt, showMaxLabel: yr.showMax, showMinLabel: yr.showMin, margin: yr.margin } });
      yAxis.push({ ...yCommon, position: "right", axisLabel: { show: false } });

      if (c === 0 || c === 1) {
        const data = c === 0 ? W_DATA[r] : H_DATA[r];
        series.push({
          type: "line", xAxisIndex: 2 * g, yAxisIndex: 2 * g, data,
          symbol: "none", showSymbol: false, silent: true, clip: true,
          lineStyle: { color: "#000", width: 1.8 }, z: 2,
        });
      } else {
        const env = R_DATA[r];
        series.push({
          type: "line", xAxisIndex: 2 * g, yAxisIndex: 2 * g, data: env.map((p) => [p[0], p[1]]),
          symbol: "none", showSymbol: false, silent: true, clip: true,
          lineStyle: { color: "#000", width: 0.8 }, areaStyle: { color: "#000", opacity: 1 }, z: 2,
        });
        series.push({
          type: "line", xAxisIndex: 2 * g, yAxisIndex: 2 * g, data: env.map((p) => [p[0], p[2]]),
          symbol: "none", showSymbol: false, silent: true, clip: true,
          lineStyle: { color: "#000", width: 0.8 }, areaStyle: { color: "#000", opacity: 1 }, z: 2,
        });
      }
    }
  }

  const graphic: any[] = [];
  COL_TITLES.forEach((t, c) => {
    graphic.push({ type: "text", x: COL_LEFT[c] + COL_WIDTH / 2, y: 11, silent: true,
      style: { text: t, fontSize: 9.5, fontFamily: FONT, fill: "#111", align: "center", verticalAlign: "middle" } });
  });
  K_LABELS.forEach((t, r) => {
    graphic.push({ type: "text", x: 9, y: ROW_TOP[r] + ROW_HEIGHT / 2, rotation: Math.PI / 2, silent: true,
      style: { text: t, fontSize: 8.5, fontFamily: FONT, fill: "#111", align: "center", verticalAlign: "middle" } });
  });
  graphic.push({ type: "text", x: 1236, y: 800, silent: true,
    style: { text: "x 10", fontSize: 8, fontFamily: FONT, fill: "#111", align: "left", verticalAlign: "middle" } });
  graphic.push({ type: "text", x: 1253, y: 796, silent: true,
    style: { text: "5", fontSize: 6, fontFamily: FONT, fill: "#111", align: "left", verticalAlign: "middle" } });

  graphic.push({ type: "text", x: 131, y: 841, silent: true,
    style: { text: "Pitch estimates:", fontSize: 32, fontFamily: BIG_FONT, fill: "#000", align: "left", verticalAlign: "middle" } });
  PITCH_ESTIMATES.forEach((t, i) => {
    graphic.push({ type: "text", x: PITCH_X[i], y: 841, silent: true,
      style: { text: t, fontSize: 32, fontFamily: BIG_FONT, fill: "#000", align: "center", verticalAlign: "middle" } });
  });
  graphic.push({ type: "text", x: 633, y: 886, silent: true,
    style: { text: "(True values: " + TRUE_VALUES.join(", ") + ")", fontSize: 32, fontFamily: BIG_FONT, fill: "#000", align: "center", verticalAlign: "middle" } });

  return {
    animation: false,
    backgroundColor: "#ffffff",
    textStyle: { fontFamily: FONT },
    grid, xAxis, yAxis, series, graphic,
  };
}

export default function App() {
  const ref = useRef<HTMLDivElement | null>(null);
  useEffect(() => {
    if (!ref.current) return;
    const chart = echarts.init(ref.current, null, { renderer: "svg" });
    chart.setOption(buildOption() as any);
    return () => chart.dispose();
  }, []);
  return (
    <div
      ref={ref}
      style={{ position: "absolute", left: 0, top: 0, width: 1263, height: 908, background: "#fff" }}
    />
  );
}
